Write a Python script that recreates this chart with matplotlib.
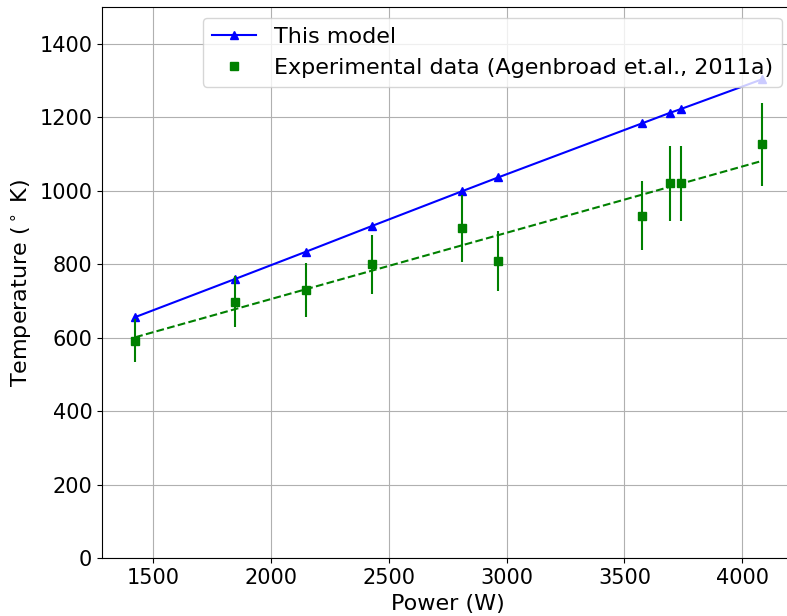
import numpy as np
import matplotlib
matplotlib.use("Agg")
import matplotlib.pyplot as plt

# Input power (W) for each run
power = [1425, 1850, 2150, 2430, 2810, 2965, 3575, 3695, 3740, 4085]
# Predicted temperatures from the model
model_temp = [656, 760, 834, 904, 998, 1036, 1183, 1212, 1222, 1303]
# Measured temperatures and their uncertainties
exp_temp = [592, 698, 730, 800, 897, 808, 932, 1020, 1020, 1126]
exp_err = [59, 70, 73, 80, 90, 81, 93, 102, 102, 113]


def plot_temperature():
    fig = plt.figure(figsize=(7.87, 6.16), dpi=100)
    ax = fig.add_axes([0.1296, 0.0937, 0.878, 0.8953])

    ax.plot(power, model_temp, '-^', color='blue', markersize=6,
            linewidth=1.5, label='This model')
    ax.errorbar(power, exp_temp, yerr=exp_err, fmt='none', ecolor='green',
                elinewidth=1.5)
    ax.plot(power, exp_temp, 's', color='green', markersize=6,
            label='Experimental data (Agenbroad et.al., 2011a)')

    # linear fit through the measurements
    coef = np.polyfit(power, exp_temp, 1)
    ax.plot(power, np.polyval(coef, power), '--', color='green', linewidth=1.5)

    ax.set_xlim(1284, 4215)
    ax.set_ylim(0, 1500)
    ax.grid(True)
    ax.tick_params(labelsize=15)
    ax.set_xlabel('Power (W)', fontsize=16)
    ax.set_ylabel(r'Temperature ($^\circ$ K)', fontsize=16)
    ax.legend(loc='upper right', fontsize=16)

    fig.savefig('out.png', dpi=100)


if __name__ == "__main__":
    plot_temperature()
